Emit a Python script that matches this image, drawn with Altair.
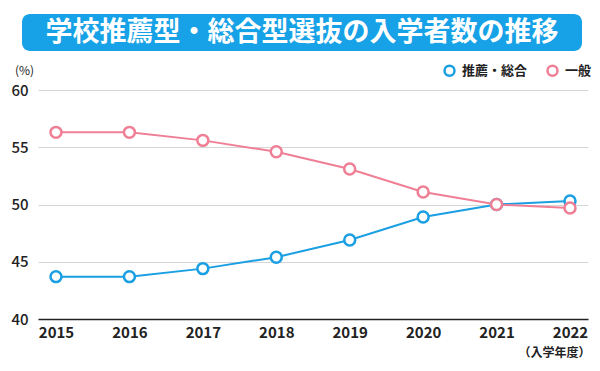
import altair as alt
import pandas as pd

years = [2015, 2016, 2017, 2018, 2019, 2020, 2021, 2022]
suisen_sogo = [43.7, 43.7, 44.4, 45.4, 46.9, 48.9, 50.0, 50.3]
ippan = [56.3, 56.3, 55.6, 54.6, 53.1, 51.1, 50.0, 49.7]
series_names = ["推薦・総合", "一般"]
series_colors = ["#1a9fe3", "#ef7f95"]
title_text = "学校推薦型・総合型選抜の入学者数の推移"
y_ticks = [40, 45, 50, 55, 60]

rows = []
for name, vals in zip(series_names, [suisen_sogo, ippan]):
    for yr, v in zip(years, vals):
        rows.append({"year": str(yr), "value": v, "series": name})
df = pd.DataFrame(rows)

FONT = "Noto Sans CJK JP"

x_enc = alt.X(
    "year:O",
    scale=alt.Scale(type="point", padding=0.245),
    axis=alt.Axis(
        title="（入学年度）",
        labelAngle=0,
        labelFont=FONT,
        labelFontSize=15,
        labelFontWeight="bold",
        labelColor="#222222",
        labelPadding=6,
        ticks=False,
        domainColor="#222222",
        domainWidth=1.5,
        grid=False,
        titleFont=FONT,
        titleFontSize=12,
        titleFontWeight="bold",
        titleColor="#222222",
        titleX=552,
        titleY=33,
        titleAlign="right",
        titleBaseline="middle",
    ),
)
y_enc = alt.Y(
    "value:Q",
    scale=alt.Scale(domain=[40, 60], nice=False, zero=False),
    axis=alt.Axis(
        values=y_ticks,
        title="(%)",
        titleAngle=0,
        titleX=-14,
        titleY=-20,
        titleAlign="center",
        titleBaseline="middle",
        titleFont=FONT,
        titleFontSize=12,
        titleFontWeight="normal",
        titleColor="#222222",
        labelFont=FONT,
        labelFontSize=15,
        labelFontWeight=500,
        labelColor="#222222",
        labelPadding=10,
        ticks=False,
        domain=False,
        gridColor="#d6d6d6",
        gridWidth=1,
    ),
)
color_enc = alt.Color(
    "series:N",
    scale=alt.Scale(domain=series_names, range=series_colors),
    sort=series_names,
    legend=alt.Legend(
        title=None,
        orient="none",
        legendX=405,
        legendY=-26,
        direction="horizontal",
        symbolType="circle",
        symbolFillColor="white",
        symbolStrokeWidth=2.5,
        symbolSize=100,
        labelFont=FONT,
        labelFontSize=13,
        labelFontWeight="bold",
        labelColor="#222222",
        columnPadding=14,
        labelOffset=6,
    ),
)

lines = alt.Chart(df).mark_line(strokeWidth=2).encode(x=x_enc, y=y_enc, color=color_enc)
points = alt.Chart(df).mark_point(
    filled=False, fill="white", fillOpacity=1, size=120, strokeWidth=2.5, opacity=1
).encode(x=x_enc, y=y_enc, color=alt.Color("series:N", scale=alt.Scale(domain=series_names, range=series_colors), legend=None))

tdf = pd.DataFrame({"t": [title_text]})
title_rect = alt.Chart(tdf).mark_rect(cornerRadius=8, color="#17a1e6").encode(
    x=alt.value(-16), x2=alt.value(544), y=alt.value(-76), y2=alt.value(-39)
)
title_txt = alt.Chart(tdf).mark_text(
    font=FONT, fontSize=27, fontWeight="bold", color="white", align="center", baseline="middle"
).encode(text="t:N", x=alt.value(264), y=alt.value(-57))

chart = alt.layer(title_rect, title_txt, lines, points).properties(
    width=550,
    height=229,
    autosize=alt.AutoSizeParams(type="none"),
    padding={"left": 30, "top": 82, "right": 4, "bottom": 44},
).configure_view(stroke=None)

chart.save("out.html", embed_options={"renderer": "svg", "actions": False})
